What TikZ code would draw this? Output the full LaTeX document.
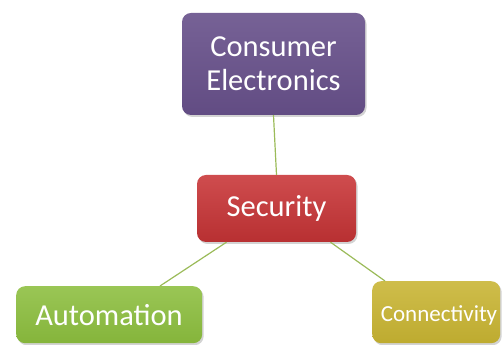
\documentclass[tikz,border=0pt]{standalone}
\usepackage{fontspec}
\setmainfont{Carlito}
\usetikzlibrary{shadows}
\definecolor{purp}{RGB}{103,80,138}
\definecolor{redb}{RGB}{200,52,54}
\definecolor{grn}{RGB}{140,190,62}
\definecolor{yel}{RGB}{200,180,50}
\definecolor{lnk}{RGB}{155,187,89}
\tikzset{
  box/.style={rounded corners=9pt, minimum width=#1, text=white, align=center, inner sep=0pt,
    drop shadow={shadow xshift=1.5pt, shadow yshift=-2pt, opacity=0.35}},
  link/.style={draw=lnk, line width=1.2pt},
  big/.style={font=\fontsize{30.5}{34}\selectfont},
}
\begin{document}
\begin{tikzpicture}[x=1pt,y=1pt]
\useasboundingbox (0,0) rectangle (503,345);
\clip (0,0) rectangle (503,345);
\node[box=183pt, minimum height=102pt, top color=purp!90!white, bottom color=purp!95!black, big] (ce) at (273.5,281) {Consumer\\Electronics};
\node[box=159pt, minimum height=67pt, top color=redb!88!white, bottom color=redb!92!black, big] (sec) at (276.5,136.5) {Security};
\node[box=186pt, minimum height=57pt, top color=grn!88!white, bottom color=grn!95!black, anchor=north west] (aut) at (16,59) {};
\node[text=white, big] (autt) at (109,30) {Automation};
\node[box=128pt, minimum height=62pt, top color=yel!88!white, bottom color=yel!95!black, anchor=north west] (con) at (372,64) {};
\node[text=white, font=\fontsize{23}{26}\selectfont] (cont) at (439,30) {Connectivity};
\draw[link] (ce.south) -- (sec.north);
\draw[link] ([xshift=-50pt]sec.south) -- ([xshift=144pt]aut.north west);
\draw[link] ([xshift=54pt]sec.south) -- ([xshift=13pt]con.north west);
\end{tikzpicture}
\end{document}
